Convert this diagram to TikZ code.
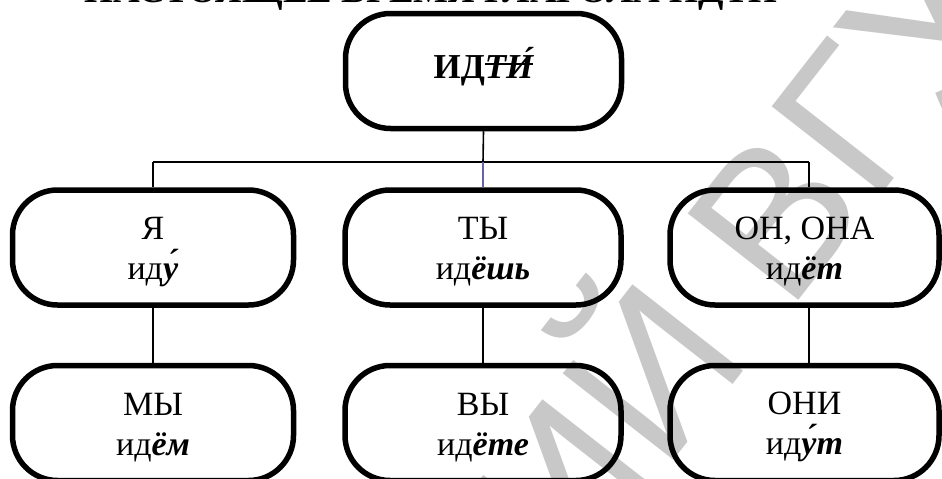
\documentclass[tikz,border=0pt]{standalone}
\usepackage{fontspec}
\setmainfont{Liberation Serif}
\newfontfamily\wmfont{Liberation Sans}
\usetikzlibrary{calc}
\definecolor{wmgray}{RGB}{200,200,200}
\definecolor{lineblue}{RGB}{100,100,170}
\newcommand\bi[1]{\textbf{\textit{#1}}}
\newcommand\strk[1]{\setbox0\hbox{#1}\rlap{\rule[0.36em]{\wd0}{0.055em}}\box0}
\newcommand\st{\rule{0pt}{31pt}}
\begin{document}
\begin{tikzpicture}[x=1pt,y=-1pt,
  pill/.style={draw, line width=5.5pt, rounded corners=45pt, minimum height=115pt,
    inner sep=0pt, align=center, font=\fontsize{34}{40}\selectfont},
  link/.style={line width=1.6pt},
  wm/.style={text=wmgray, font=\wmfont\fontsize{204}{204}\selectfont, rotate=52,
    inner sep=0pt, outer sep=0pt}]
\useasboundingbox (0,0) rectangle (942,479);
\clip (0,0) rectangle (942,479);
% watermark
\node[wm, anchor=base east] (wmA) at (872,206) {РЕПОЗИТОРИЙ В};
\node[wm, anchor=base west] (wmB) at (872,206) {ГУ};
% cut-off heading
\node[font=\bfseries\fontsize{37}{37}\selectfont, anchor=base, inner sep=0pt] (head) at (431,2) {НАСТОЯЩЕЕ ВРЕМЯ ГЛАГОЛА ИДТИ};
% boxes
\node[pill, minimum width=276pt, font=\bfseries\fontsize{35}{40}\selectfont,
  text height=25pt, text depth=11pt] (inf) at (483.5,71) {ИД\strk{\itshape ТИ́}};
\node[pill, minimum width=281pt] (ya) at (153,247.5) {\st Я\\ид\bi{у́}};
\node[pill, minimum width=276pt] (ty) at (483,247.5) {\st ТЫ\\ид\bi{ёшь}};
\node[pill, minimum width=269pt] (on) at (804.5,247.5) {\st ОН, ОНА\\ид\bi{ёт}};
\node[pill, minimum width=281pt] (my) at (153,423) {\st МЫ\\ид\bi{ём}};
\node[pill, minimum width=276pt] (vy) at (483,423) {\st ВЫ\\ид\bi{ёте}};
\node[pill, minimum width=269pt] (oni) at (804.5,423) {\st ОНИ\\ид\bi{у́т}};
% connectors
\coordinate (hl) at (153,162);
\coordinate (hm) at (483,162);
\coordinate (hr) at (809,162);
\draw[link] (inf.south) -- (hm);
\draw[link] (hl) -- (hr);
\draw[link] (hl) -- (hl |- ya.north);
\draw[link, lineblue] (hm) -- (ty.north);
\draw[link] (hr) -- (hr |- on.north);
\draw[link] (ya.south) -- (my.north);
\draw[link] (ty.south) -- (vy.north);
\draw[link] (hr |- on.south) -- (hr |- oni.north);
\end{tikzpicture}
\end{document}
